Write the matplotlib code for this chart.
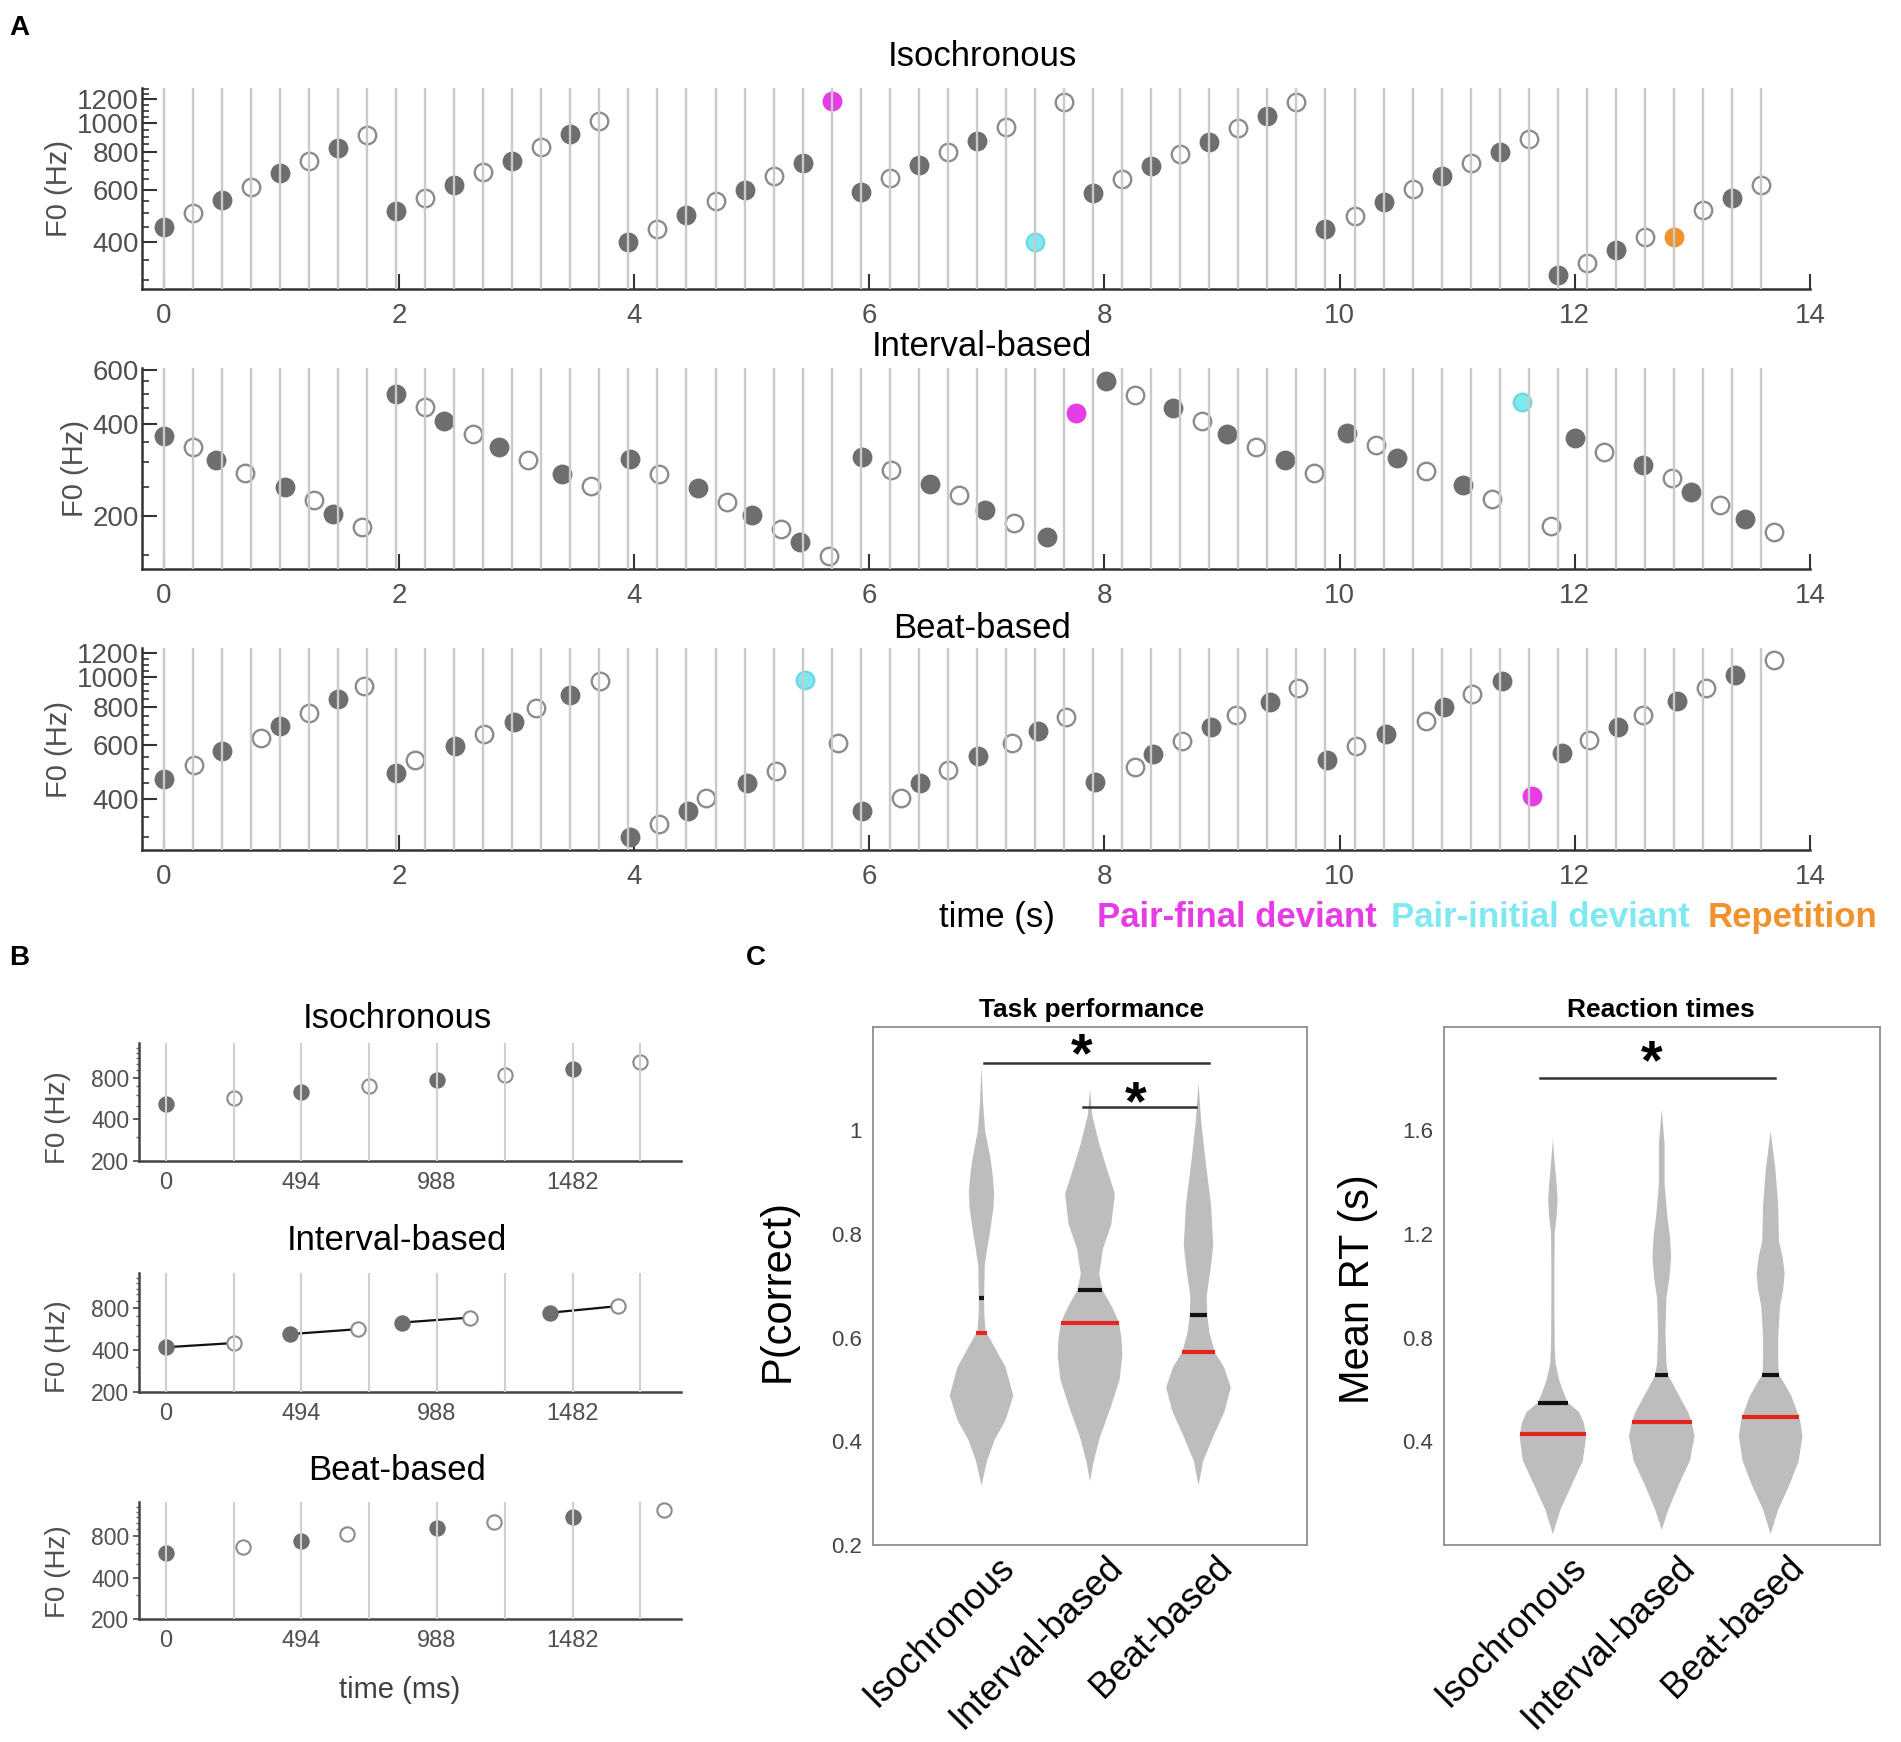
import numpy as np
import matplotlib
matplotlib.use("Agg")
import matplotlib.pyplot as plt
from matplotlib.ticker import NullFormatter
from matplotlib.transforms import ScaledTranslation

plt.rcParams['font.family'] = ['Liberation Sans', 'DejaVu Sans']

# ======================= DATA =======================
cond_names = ["Isochronous", "Interval-based", "Beat-based"]

# ---- Panel A : tone onsets (s), F0 (Hz), tone type
# f = pair-initial standard, o = pair-final standard,
# m = pair-final deviant, c = pair-initial deviant, r = repetition
A_ioi = 0.247
A_grid = A_ioi * np.arange(56)          # isochronous tone grid (vertical lines)
A_xticks = [0, 2, 4, 6, 8, 10, 12, 14]

iso_time = A_grid
iso_f0 = [451, 500, 554, 613, 680, 747, 823, 912,
          510, 561, 621, 688, 749, 834, 917, 1016,
          402, 445, 494, 548, 598, 666, 734, 1185,
          590, 657, 724, 801, 873, 972, 402, 1178,
          586, 651, 719, 788, 867, 960, 1058, 1172,
          443, 491, 544, 601, 666, 734, 802, 885,
          311, 342, 377, 416, 416, 513, 561, 624]
iso_type = "fofofofo" "fofofofo" "fofofofm" "fofofoco" "fofofofo" "fofofofo" "foforofo"

int_time = [0.000, 0.247, 0.449, 0.696, 1.031, 1.278, 1.443, 1.690,
            1.974, 2.221, 2.387, 2.634, 2.850, 3.097, 3.386, 3.633,
            3.969, 4.216, 4.546, 4.793, 4.999, 5.246, 5.412, 5.659,
            5.937, 6.184, 6.520, 6.767, 6.981, 7.228, 7.512, 7.759,
            8.017, 8.264, 8.584, 8.831, 9.042, 9.289, 9.532, 9.779,
            10.063, 10.310, 10.485, 10.732, 11.052, 11.299, 11.547, 11.794,
            12.005, 12.252, 12.578, 12.825, 12.990, 13.237, 13.448, 13.695]
int_f0 = [366, 336, 304, 276, 249, 226, 203, 185,
          501, 453, 409, 370, 336, 305, 275, 251,
          308, 274, 248, 223, 202, 182, 165, 149,
          313, 283, 254, 234, 210, 190, 171, 433,
          549, 497, 450, 409, 370, 337, 305, 276,
          373, 342, 309, 280, 253, 228, 469, 186,
          359, 325, 294, 266, 240, 218, 196, 178]
int_type = "fofofofo" "fofofofo" "fofofofo" "fofofofm" "fofofofo" "fofofoco" "fofofofo"

beat_time = [0.000, 0.258, 0.500, 0.825, 0.990, 1.237, 1.485, 1.701,
             1.974, 2.139, 2.474, 2.722, 2.979, 3.170, 3.458, 3.711,
             3.969, 4.216, 4.458, 4.613, 4.958, 5.206, 5.453, 5.736,
             5.937, 6.272, 6.432, 6.674, 6.929, 7.218, 7.434, 7.676,
             7.924, 8.259, 8.413, 8.661, 8.908, 9.120, 9.408, 9.650,
             9.893, 10.140, 10.398, 10.733, 10.887, 11.129, 11.377, 11.634,
             11.892, 12.124, 12.366, 12.577, 12.871, 13.119, 13.361, 13.696]
beat_f0 = [464, 517, 572, 633, 694, 764, 852, 940,
           486, 537, 594, 652, 714, 793, 878, 976,
           299, 330, 365, 404, 450, 494, 978, 609,
           365, 404, 450, 498, 551, 609, 670, 741,
           456, 508, 562, 620, 686, 755, 830, 923,
           535, 594, 652, 718, 798, 884, 976, 410,
           565, 622, 688, 755, 835, 923, 1021, 1138]
beat_type = "fofofofo" "fofofofo" "fofofoco" "fofofofo" "fofofofo" "fofofofm" "fofofofo"

A_yticks = [[400, 600, 800, 1000, 1200], [200, 400, 600], [400, 600, 800, 1000, 1200]]

legend_labels = ["Pair-final deviant", "Pair-initial deviant", "Repetition"]

# ---- Panel B : one example sequence (ms, Hz)
B_ioi = 247
B_grid = B_ioi * np.arange(8)
B_xticks = [0, 494, 988, 1482]
B_yticks = [200, 400, 800]
B_iso_t = [0, 247, 494, 741, 988, 1235, 1482, 1729]
B_iso_f0 = [514, 574, 629, 694, 766, 841, 929, 1030]
B_int_t = [0, 247, 453, 700, 860, 1107, 1400, 1647]
B_int_f0 = [418, 448, 519, 563, 628, 681, 738, 823]
B_beat_t = [0, 282, 494, 660, 988, 1195, 1482, 1815]
B_beat_f0 = [605, 670, 740, 830, 912, 1020, 1110, 1240]
B_type = "fofofofo"

# ---- Panel C : violin density profiles (value, half-width) and summary lines
tp_iso_y = [0.315, 0.362, 0.402, 0.441, 0.488, 0.543, 0.582, 0.613, 0.645, 0.676,
            0.739, 0.770, 0.802, 0.850, 0.880, 0.910, 0.943, 0.998, 1.053, 1.123]
tp_iso_w = [0.0, 0.051, 0.119, 0.222, 0.293, 0.222, 0.119, 0.037, 0.026, 0.024,
            0.030, 0.052, 0.077, 0.110, 0.116, 0.105, 0.085, 0.034, 0.014, 0.0]
tp_int_y = [0.323, 0.362, 0.409, 0.464, 0.519, 0.566, 0.598, 0.629, 0.660, 0.692,
            0.723, 0.771, 0.818, 0.877, 0.927, 0.974, 1.029, 1.080]
tp_int_w = [0.0, 0.034, 0.094, 0.188, 0.273, 0.298, 0.290, 0.268, 0.200, 0.115,
            0.085, 0.119, 0.196, 0.230, 0.153, 0.085, 0.020, 0.0]
tp_beat_y = [0.315, 0.362, 0.409, 0.457, 0.504, 0.543, 0.572, 0.610, 0.644, 0.680,
             0.730, 0.778, 0.857, 0.935, 1.014, 1.092]
tp_beat_w = [0.0, 0.043, 0.136, 0.239, 0.298, 0.235, 0.150, 0.100, 0.080, 0.075,
             0.110, 0.136, 0.115, 0.068, 0.026, 0.0]
tp_black = [0.677, 0.692, 0.643]
tp_red = [0.609, 0.629, 0.572]

rt_iso_y = [0.042, 0.136, 0.231, 0.325, 0.419, 0.470, 0.513, 0.549, 0.592, 0.640,
            0.700, 0.764, 0.921, 1.078, 1.203, 1.270, 1.329, 1.390, 1.454, 1.564]
rt_iso_w = [0.0, 0.069, 0.172, 0.275, 0.306, 0.285, 0.241, 0.137, 0.095, 0.055,
            0.025, 0.017, 0.014, 0.014, 0.017, 0.035, 0.043, 0.035, 0.021, 0.0]
rt_int_y = [0.058, 0.136, 0.231, 0.325, 0.419, 0.474, 0.513, 0.560, 0.607, 0.654,
            0.701, 0.827, 0.952, 1.030, 1.109, 1.190, 1.266, 1.392, 1.548, 1.682]
rt_int_w = [0.0, 0.060, 0.155, 0.258, 0.301, 0.275, 0.241, 0.180, 0.120, 0.060,
            0.043, 0.034, 0.043, 0.070, 0.086, 0.075, 0.052, 0.026, 0.026, 0.0]
rt_beat_y = [0.042, 0.136, 0.231, 0.325, 0.419, 0.482, 0.530, 0.576, 0.620, 0.657,
             0.700, 0.795, 0.921, 0.985, 1.047, 1.110, 1.172, 1.313, 1.454, 1.595]
rt_beat_w = [0.0, 0.069, 0.172, 0.258, 0.292, 0.270, 0.230, 0.189, 0.130, 0.077,
             0.070, 0.069, 0.086, 0.115, 0.129, 0.110, 0.077, 0.069, 0.043, 0.0]
rt_black = [0.549, 0.654, 0.657]
rt_red = [0.427, 0.474, 0.494]

tp_yticks = [0.2, 0.4, 0.6, 0.8, 1.0]
tp_yticklabels = ["0.2", "0.4", "0.6", "0.8", "1"]
rt_yticks = [0.4, 0.8, 1.2, 1.6]
rt_yticklabels = ["0.4", "0.8", "1.2", "1.6"]

# ======================= FIGURE =======================
W, H = 1901, 1742
fig = plt.figure(figsize=(W / 100, H / 100), dpi=100)


def rect(l, t, r, b):
    return [l / W, 1 - b / H, (r - l) / W, (b - t) / H]


def fy(y):
    return 1 - y / H


COLORS = {'m': '#e63ce6', 'c': '#7ee9f0', 'r': '#f0932e'}
STYLE = {
    'f': dict(mfc='#6e6e6e', mec='#6e6e6e'),
    'o': dict(mfc='white', mec='#8c8c8c'),
    'm': dict(mfc=COLORS['m'], mec=COLORS['m']),
    'c': dict(mfc=COLORS['c'], mec='#6cd9e2'),
    'r': dict(mfc=COLORS['r'], mec=COLORS['r']),
}


def draw_tones(ax, t, f0, types, ms, mew):
    t = np.asarray(t, float)
    f0 = np.asarray(f0, float)
    types = np.array(list(types))
    for k, st in STYLE.items():
        sel = types == k
        if sel.any():
            ax.plot(t[sel], f0[sel], ls='none', marker='o', ms=ms, mew=mew,
                    zorder=3, **st)


# ---------------- Panel A ----------------
A_rects = [(142, 88, 1810, 289), (142, 368, 1810, 569), (142, 648, 1810, 850)]
A_ylims = [(280, 1308), (135, 607), (272, 1249)]
A_title_y = [56, 347, 628]
A_series = [(iso_time, iso_f0, iso_type), (int_time, int_f0, int_type),
            (beat_time, beat_f0, beat_type)]

for i in range(3):
    ax = fig.add_axes(rect(*A_rects[i]))
    ax.set_yscale('log')
    ax.set_xlim(-0.184, 14)
    ax.set_ylim(*A_ylims[i])
    ax.vlines(A_grid, 0, 1, transform=ax.get_xaxis_transform(),
              colors='#c9c9c9', lw=1.7, zorder=4)
    t, f, ty = A_series[i]
    draw_tones(ax, t, f, ty, ms=12.6, mew=1.7)
    ax.set_xticks(A_xticks)
    ax.set_xticklabels([str(v) for v in A_xticks])
    ax.set_yticks(A_yticks[i])
    ax.set_yticklabels([str(v) for v in A_yticks[i]])
    mn = np.arange(150, 1350, 50)
    mn = mn[(mn >= A_ylims[i][0]) & (mn <= A_ylims[i][1])]
    ax.set_yticks(mn, minor=True)
    ax.yaxis.set_minor_formatter(NullFormatter())
    for s in ['top', 'right']:
        ax.spines[s].set_visible(False)
    for s in ['left', 'bottom']:
        ax.spines[s].set_color('#333333')
        ax.spines[s].set_linewidth(1.8)
    ax.tick_params(axis='both', which='both', direction='in', color='#333333',
                   labelcolor='#505050', labelsize=20, width=1.5)
    ax.tick_params(axis='x', length=11, pad=10)
    ax.tick_params(axis='y', which='major', length=11, pad=2)
    ax.tick_params(axis='y', which='minor', length=5, width=1.2)
    ax.set_ylabel('F0 (Hz)', fontsize=21, color='#505050', labelpad=3)
    fig.text(982 / W, fy(A_title_y[i]), cond_names[i], ha='center', va='center',
             fontsize=25)

fig.text(997 / W, fy(917), 'time (s)', ha='center', va='center', fontsize=25)
for lab, x, col in zip(legend_labels, [1097, 1391, 1708],
                       [COLORS['m'], COLORS['c'], COLORS['r']]):
    fig.text(x / W, fy(917), lab, ha='left', va='center', fontsize=25,
             fontweight='bold', color=col)

# ---------------- Panel B ----------------
B_rects = [(139, 1043, 681, 1161), (139, 1273, 681, 1392), (139, 1502, 681, 1619)]
B_title_y = [1018, 1240, 1471]
B_ylab_y = [1118, 1347, 1572]
B_series = [(B_iso_t, B_iso_f0), (B_int_t, B_int_f0), (B_beat_t, B_beat_f0)]

for i in range(3):
    ax = fig.add_axes(rect(*B_rects[i]))
    ax.set_yscale('log')
    ax.set_xlim(-98, 1877)
    ax.set_ylim(205, 1420)
    ax.vlines(B_grid, 0, 1, transform=ax.get_xaxis_transform(),
              colors='#cfcfcf', lw=1.5, zorder=4)
    t, f = B_series[i]
    if i == 1:
        for k in range(0, 8, 2):
            ax.plot([t[k], t[k + 1]], [f[k], f[k + 1]], color='#111111', lw=1.6,
                    zorder=2.8)
    draw_tones(ax, t, f, B_type, ms=10.3, mew=1.5)
    ax.set_xticks(B_xticks)
    ax.set_xticklabels([str(v) for v in B_xticks])
    ax.set_yticks(B_yticks)
    ax.set_yticklabels([str(v) for v in B_yticks])
    ax.set_yticks([300, 500, 600, 700, 900, 1000, 1100, 1200, 1300], minor=True)
    ax.yaxis.set_minor_formatter(NullFormatter())
    for s in ['top', 'right']:
        ax.spines[s].set_visible(False)
    for s in ['left', 'bottom']:
        ax.spines[s].set_color('#444444')
        ax.spines[s].set_linewidth(1.8)
    ax.tick_params(axis='x', length=0, pad=8, labelsize=17, labelcolor='#505050')
    ax.tick_params(axis='y', which='major', direction='out', length=4, width=1.2,
                   color='#444444', pad=3, labelsize=16.5, labelcolor='#505050')
    ax.tick_params(axis='y', which='minor', direction='out', length=2.5, width=1.0,
                   color='#666666')
    fig.text(397 / W, fy(B_title_y[i]), cond_names[i], ha='center', va='center',
             fontsize=25)
    fig.text(58 / W, fy(B_ylab_y[i]), 'F0 (Hz)', rotation=90, ha='center',
             va='center', fontsize=20, color='#505050')

fig.text(400 / W, fy(1690), 'time (ms)', ha='center', va='center', fontsize=21,
         color='#404040')

# ---------------- Panel C ----------------
C_specs = [
    dict(rect=(873, 1026.5, 1307, 1545), ylim=(0.2, 1.2),
         ys=[tp_iso_y, tp_int_y, tp_beat_y], ws=[tp_iso_w, tp_int_w, tp_beat_w],
         black=tp_black, red=tp_red, yt=tp_yticks, ytl=tp_yticklabels,
         title='Task performance', tx=1091.5, ylabel='P(correct)', lx=778, ly=1291,
         bars=[(1.02, 3.10, 1.130, 1.925, 1.170), (1.94, 2.98, 1.045, 2.42, 1.077)]),
    dict(rect=(1444, 1026.5, 1879.5, 1545), ylim=(0.0, 2.0),
         ys=[rt_iso_y, rt_int_y, rt_beat_y], ws=[rt_iso_w, rt_int_w, rt_beat_w],
         black=rt_black, red=rt_red, yt=rt_yticks, ytl=rt_yticklabels,
         title='Reaction times', tx=1661, ylabel='Mean RT (s)', lx=1358, ly=1289,
         bars=[(0.88, 3.04, 1.802, 1.91, 1.914)]),
]

for sp in C_specs:
    ax = fig.add_axes(rect(*sp['rect']))
    ax.set_xlim(0, 4)
    ax.set_ylim(*sp['ylim'])
    stats = []
    for y, w, b, r in zip(sp['ys'], sp['ws'], sp['black'], sp['red']):
        stats.append(dict(coords=np.asarray(y, float), vals=np.asarray(w, float),
                          mean=b, median=r, min=min(y), max=max(y)))
    parts = ax.violin(stats, positions=[1, 2, 3],
                      widths=[2 * max(w) for w in sp['ws']],
                      showmeans=False, showextrema=False, showmedians=False)
    for body in parts['bodies']:
        body.set_facecolor('#bdbdbd')
        body.set_edgecolor('none')
        body.set_alpha(1)
    for k, (y, w, b, r) in enumerate(zip(sp['ys'], sp['ws'], sp['black'], sp['red'])):
        hb = np.interp(b, y, w)
        hr = np.interp(r, y, w)
        ax.hlines(b, k + 1 - hb, k + 1 + hb, colors='#111111', lw=3, zorder=3)
        ax.hlines(r, k + 1 - hr, k + 1 + hr, colors='#e3261c', lw=3, zorder=3)
    for x1, x2, yb, xs, ys_ in sp['bars']:
        ax.plot([x1, x2], [yb, yb], color='#333333', lw=1.8, zorder=3)
        ax.annotate('*', (xs, ys_), xytext=(0, -21), textcoords='offset points',
                    ha='center', va='baseline', fontsize=40, fontweight='bold')
    ax.set_yticks(sp['yt'])
    ax.set_yticklabels(sp['ytl'])
    ax.tick_params(axis='y', length=0, pad=8, labelsize=16, labelcolor='#444444')
    ax.set_xticks([1, 2, 3])
    ax.set_xticklabels(cond_names, rotation=45, ha='right', va='center',
                       rotation_mode='anchor', fontsize=26)
    ax.tick_params(axis='x', length=0, pad=12)
    for lab in ax.get_xticklabels():
        lab.set_transform(lab.get_transform() +
                          ScaledTranslation(20 / 72, 0, fig.dpi_scale_trans))
    for s in ax.spines.values():
        s.set_color('#8f8f8f')
        s.set_linewidth(1.3)
    fig.text(sp['tx'] / W, fy(1010), sp['title'], ha='center', va='center',
             fontsize=19, fontweight='bold')
    fig.text(sp['lx'] / W, fy(sp['ly']), sp['ylabel'], rotation=90, ha='center',
             va='center', fontsize=30)

# panel letters
for letter, x, y in [('A', 19, 28), ('B', 19, 958), ('C', 756, 958)]:
    fig.text(x / W, fy(y), letter, ha='center', va='center', fontsize=20,
             fontweight='bold')

fig.savefig('out.png', dpi=100)
